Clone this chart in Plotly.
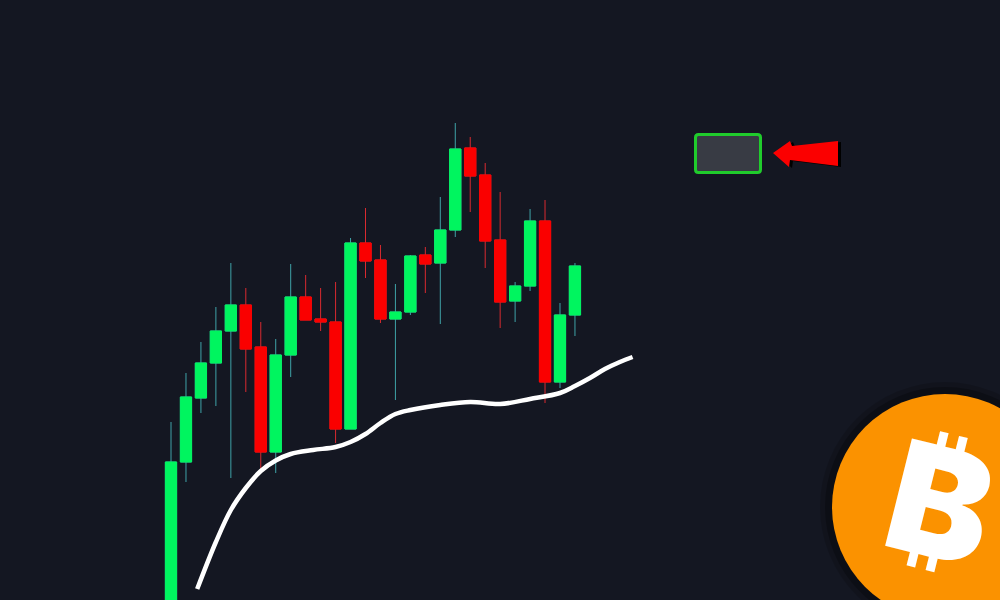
import plotly.graph_objects as go

# Prices (axis runs 0..600 bottom to top)
candle_index = list(range(28))
opens = [-60, 138, 202, 237, 269, 295, 253, 148, 245, 303, 281, 278, 171, 357, 340, 281, 288, 345, 337, 370, 452, 425, 360, 299, 314, 379, 218, 285]
closes = [138, 203, 237, 269, 295, 251, 148, 245, 303, 280, 278, 171, 357, 339, 281, 288, 344, 336, 370, 451, 424, 359, 298, 314, 379, 218, 285, 334]
highs = [178, 227, 258, 293, 337, 312, 278, 261, 336, 325, 312, 318, 362, 392, 355, 316, 345, 353, 403, 477, 463, 437, 408, 318, 391, 400, 297, 337]
lows = [-80, 118, 187, 194, 122, 208, 130, 127, 223, 280, 269, 157, 171, 322, 277, 200, 285, 307, 276, 363, 388, 332, 272, 278, 309, 197, 212, 264]

ma_index = [1.75, 3, 4, 5, 6, 7, 8, 9.5, 11, 12, 13, 14, 15, 16, 18, 20, 22, 24, 26, 27, 28, 29, 30, 30.85]
ma_values = [11, 58, 90, 112, 129, 139.5, 146, 150, 153, 158, 166, 177, 186, 190, 195, 198, 196, 201, 207, 214, 222, 231, 238, 243]

BG = "#141722"
GREEN = "#00f55f"
RED = "#fa0000"
TEAL = "#3fa3a8"
DARKRED = "#d92a30"

fig = go.Figure()
fig.add_trace(go.Candlestick(
    x=candle_index, open=opens, close=closes, high=highs, low=lows,
    whiskerwidth=0, hoverinfo="skip",
    increasing=dict(line=dict(color=TEAL, width=1), fillcolor=TEAL),
    decreasing=dict(line=dict(color=DARKRED, width=1), fillcolor=DARKRED),
))
fig.add_trace(go.Candlestick(
    x=candle_index, open=opens, close=closes,
    high=[max(o, c) for o, c in zip(opens, closes)],
    low=[min(o, c) for o, c in zip(opens, closes)],
    whiskerwidth=0, hoverinfo="skip",
    increasing=dict(line=dict(color=GREEN, width=1), fillcolor=GREEN),
    decreasing=dict(line=dict(color=RED, width=1), fillcolor=RED),
))
fig.add_trace(go.Scatter(
    x=ma_index, y=ma_values, mode="lines", hoverinfo="skip",
    line=dict(color="#ffffff", width=4.5, shape="spline", smoothing=1.0),
))


def px(x):
    return x / 1000


def py(y):
    return 1 - y / 600


def poly(points):
    return "M " + " L ".join(f"{px(x):.4f},{py(y):.4f}" for x, y in points) + " Z"


def shape_poly(points, fill):
    return dict(type="path", xref="paper", yref="paper", path=poly(points),
                fillcolor=fill, line=dict(width=0), layer="above")


def circle(cx, cy, r, fill):
    return dict(type="circle", xref="paper", yref="paper", x0=px(cx - r), x1=px(cx + r),
                y0=py(cy + r), y1=py(cy - r), fillcolor=fill, line=dict(width=0), layer="above")


def rounded(x0, y0, x1, y1, r):
    def p(x, y):
        return f"{px(x):.4f},{py(y):.4f}"
    return (f"M {p(x0 + r, y0)} L {p(x1 - r, y0)} Q {p(x1, y0)} {p(x1, y0 + r)} "
            f"L {p(x1, y1 - r)} Q {p(x1, y1)} {p(x1 - r, y1)} "
            f"L {p(x0 + r, y1)} Q {p(x0, y1)} {p(x0, y1 - r)} "
            f"L {p(x0, y0 + r)} Q {p(x0, y0)} {p(x0 + r, y0)} Z")


arrow = [(773, 153), (790, 141), (792, 146), (838, 141), (838, 166), (790, 160), (789, 167)]
shapes = [
    dict(type="path", xref="paper", yref="paper", path=rounded(695.5, 134.5, 760.5, 172.5, 3),
         fillcolor="#383b44", line=dict(color="#20cc2c", width=3), layer="above"),
    shape_poly([(x + 3, y + 1) for x, y in arrow], "#000000"),
    shape_poly(arrow, "#fb0000"),
    circle(945, 507, 125, "rgba(0,0,0,0.15)"),
    circle(945, 507, 120, "rgba(0,0,0,0.25)"),
    circle(945, 507, 113, "#fb9200"),
]

fig.update_layout(
    width=1000, height=600, autosize=False, showlegend=False,
    margin=dict(l=0, r=0, t=0, b=0),
    paper_bgcolor=BG, plot_bgcolor=BG, shapes=shapes,
    boxgap=0.25, boxgroupgap=0, boxmode="overlay",
    xaxis=dict(range=[-11.43, 55.41], visible=False, rangeslider=dict(visible=False)),
    yaxis=dict(range=[0, 600], visible=False),
    annotations=[dict(
        text="₿", xref="paper", yref="paper", x=px(941), y=py(503),
        xanchor="center", yanchor="middle", showarrow=False, textangle=14,
        font=dict(family="Inter, Noto Sans, Roboto", size=152, color="#ffffff", weight=900),
    )],
)

fig.write_html(
    "out.html",
    config=dict(displayModeBar=False),
    post_script="document.body.style.margin='0';document.body.style.background='#141722';document.body.style.overflow='hidden';",
)
